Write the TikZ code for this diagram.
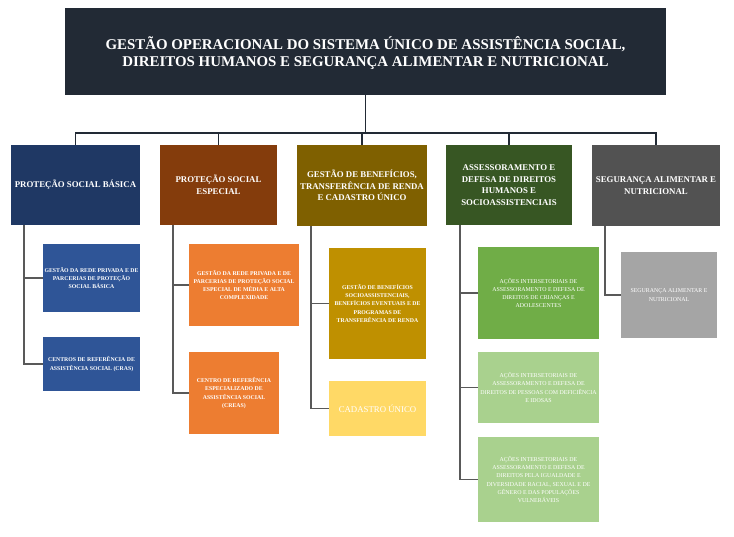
\documentclass[tikz,border=0pt]{standalone}
\usepackage{fontspec}
\setmainfont{Liberation Serif}
\usetikzlibrary{positioning}
\definecolor{titlebg}{HTML}{222A35}
\definecolor{navy}{HTML}{1F3864}
\definecolor{navylt}{HTML}{2F5597}
\definecolor{rust}{HTML}{843C0C}
\definecolor{orng}{HTML}{ED7D31}
\definecolor{olive}{HTML}{7F6000}
\definecolor{gold}{HTML}{BF9000}
\definecolor{lemon}{HTML}{FFD966}
\definecolor{forest}{HTML}{375623}
\definecolor{leaf}{HTML}{70AD47}
\definecolor{sage}{HTML}{A9D18E}
\definecolor{slate}{HTML}{525252}
\definecolor{ash}{HTML}{A5A5A5}
\definecolor{wire}{HTML}{595959}

\begin{document}
\begin{tikzpicture}[x=1pt, y=-1pt,
    every node/.style={text=white, align=center, inner sep=1pt, outer sep=0pt, anchor=north west},
    head/.style={fill=#1, font=\bfseries\fontsize{8.8}{11.5}\selectfont},
    sub/.style={fill=#1, font=\bfseries\fontsize{5.8}{8.2}\selectfont},
    subl/.style={fill=#1, font=\fontsize{5.9}{8.2}\selectfont},
    link/.style={draw=wire, line width=1.1pt}]
  \useasboundingbox (0,0) rectangle (734,537);

  \node[fill=titlebg, minimum width=601, minimum height=87, text depth=0pt, font=\bfseries\fontsize{14.9}{17.5}\selectfont] (top) at (65,8)
       {GESTÃO OPERACIONAL DO SISTEMA ÚNICO DE ASSISTÊNCIA SOCIAL,\\DIREITOS HUMANOS E SEGURANÇA ALIMENTAR E NUTRICIONAL};

  % areas
  \node[head=navy, minimum width=129, minimum height=80] (pbasica) at (11,145) {PROTEÇÃO SOCIAL BÁSICA};
  \node[head=rust, minimum width=117, minimum height=80] (pespecial) at (160,145) {PROTEÇÃO SOCIAL\\ESPECIAL};
  \node[head=olive, minimum width=130, minimum height=81] (beneficios) at (297,145) {GESTÃO DE BENEFÍCIOS,\\TRANSFERÊNCIA DE RENDA\\E CADASTRO ÚNICO};
  \node[head=forest, minimum width=126, minimum height=80] (direitos) at (446,145) {ASSESSORAMENTO E\\DEFESA DE DIREITOS\\HUMANOS E\\SOCIOASSISTENCIAIS};
  \node[head=slate, minimum width=128, minimum height=81] (seguranca) at (592,145) {SEGURANÇA ALIMENTAR E\\NUTRICIONAL};

  % sub units
  \node[sub=navylt, minimum width=97, minimum height=68] (rede1) at (43,244) {GESTÃO DA REDE PRIVADA E DE\\PARCERIAS DE PROTEÇÃO\\SOCIAL BÁSICA};
  \node[sub=navylt, minimum width=97, minimum height=54] (cras) at (43,337) {CENTROS DE REFERÊNCIA DE\\ASSISTÊNCIA SOCIAL (CRAS)};
  \node[sub=orng, minimum width=110, minimum height=82] (rede2) at (189,244) {GESTÃO DA REDE PRIVADA E DE\\PARCERIAS DE PROTEÇÃO SOCIAL\\ESPECIAL DE MÉDIA E ALTA\\COMPLEXIDADE};
  \node[sub=orng, minimum width=90, minimum height=82] (creas) at (189,352) {CENTRO DE REFERÊNCIA\\ESPECIALIZADO DE\\ASSISTÊNCIA SOCIAL\\(CREAS)};
  \node[sub=gold, minimum width=97, minimum height=111] (socio) at (329,248) {GESTÃO DE BENEFÍCIOS\\SOCIOASSISTENCIAIS,\\BENEFÍCIOS EVENTUAIS E DE\\PROGRAMAS DE\\TRANSFERÊNCIA DE RENDA};
  \node[fill=lemon, minimum width=97, minimum height=55, font=\fontsize{8.8}{10}\selectfont] (cadastro) at (329,381) {CADASTRO ÚNICO};
  \node[subl=leaf, minimum width=121, minimum height=92] (criancas) at (478,247) {AÇÕES INTERSETORIAIS DE\\ASSESSORAMENTO E DEFESA DE\\DIREITOS DE CRIANÇAS E\\ADOLESCENTES};
  \node[subl=sage, minimum width=121, minimum height=71] (pcd) at (478,352) {AÇÕES INTERSETORIAIS DE\\ASSESSORAMENTO E DEFESA DE\\DIREITOS DE PESSOAS COM DEFICIÊNCIA\\E IDOSAS};
  \node[subl=sage, minimum width=121, minimum height=85] (igualdade) at (478,437) {AÇÕES INTERSETORIAIS DE\\ASSESSORAMENTO E DEFESA DE\\DIREITOS PELA IGUALDADE E\\DIVERSIDADE RACIAL, SEXUAL E DE\\GÊNERO E DAS POPULAÇÕES\\VULNERÁVEIS};
  \node[subl=ash, minimum width=96, minimum height=86] (san) at (621,252) {SEGURANÇA ALIMENTAR E\\NUTRICIONAL};

  % tree lines
  \coordinate (bus) at (365.5,133);
  \draw[link, draw=titlebg, line width=1.4pt] (top.south) -- (bus);
  \foreach \n in {pbasica,pespecial,beneficios,direitos,seguranca}
    \draw[link, draw=titlebg] (bus) -| (\n.north);

  \draw[link] ([xshift=13pt]pbasica.south west) |- (rede1.west);
  \draw[link] ([xshift=13pt]pbasica.south west) |- (cras.west);
  \draw[link] ([xshift=13pt]pespecial.south west) |- (rede2.west);
  \draw[link] ([xshift=13pt]pespecial.south west) |- (creas.west);
  \draw[link] ([xshift=14pt]beneficios.south west) |- (socio.west);
  \draw[link] ([xshift=14pt]beneficios.south west) |- (cadastro.west);
  \draw[link] ([xshift=14pt]direitos.south west) |- (criancas.west);
  \draw[link] ([xshift=14pt]direitos.south west) |- (pcd.west);
  \draw[link] ([xshift=14pt]direitos.south west) |- (igualdade.west);
  \draw[link] ([xshift=13pt]seguranca.south west) |- (san.west);
\end{tikzpicture}
\end{document}
